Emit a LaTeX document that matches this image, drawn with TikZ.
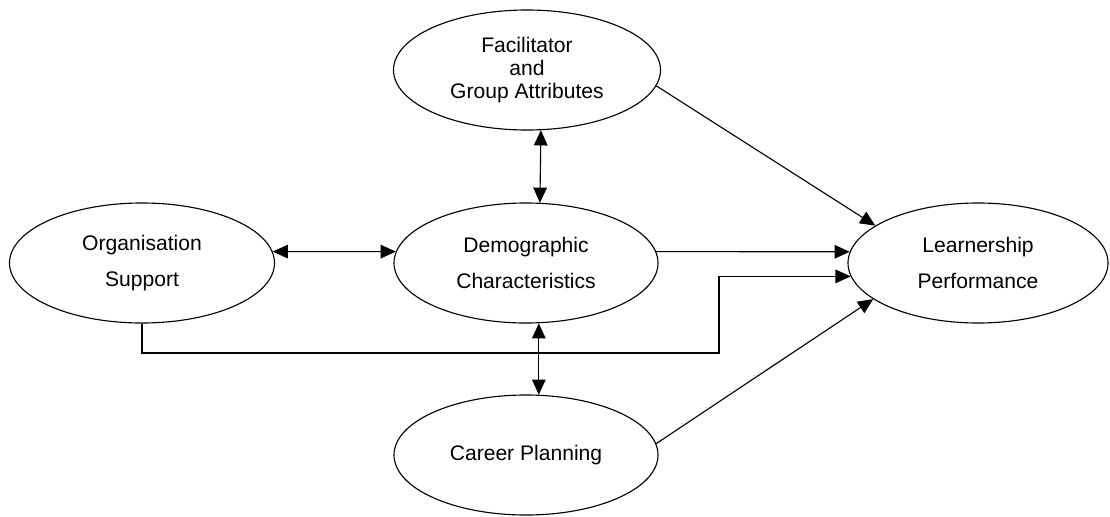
\documentclass[tikz,border=0pt]{standalone}
\usepackage{fontspec}
\setmainfont{Liberation Sans}
\usetikzlibrary{shapes.geometric,arrows.meta}

\begin{document}
\begin{tikzpicture}[
  construct/.style={ellipse, draw, minimum width=6.6cm, minimum height=3cm,
                    inner sep=0pt, align=center, font=\fontsize{15}{26}\selectfont},
  thick,
  >={Triangle[length=0.38cm, width=0.34cm]}
]
\useasboundingbox (0,0) rectangle (27.75,-12.9);

\node[construct, minimum width=6.675cm, font=\fontsize{15}{16.5}\selectfont] (facil) at (13.175, -1.75)
  {Facilitator\\and\\Group Attributes};
\node[construct, minimum width=6.625cm] (org) at (3.55, -6.575) {Organisation\\Support};
\node[construct] (demog) at (13.15, -6.575) {Demographic\\Characteristics};
\node[construct, minimum width=6.5cm] (learn) at (24.45, -6.575) {Learnership\\Performance};
\node[construct] (career) at (13.15, -11.375) {Career Planning};

\coordinate (kink) at (17.975, -8.825);

\draw[<->] (org.5) -- (demog.175);
\draw[<->] (facil.-77) -- (demog.77);
\draw[<->] (demog.-78) -- (career.78);
\draw[->] (demog.5) -- (learn.175);
\draw[->] (org.south) |- (kink) |- (learn.186);
\draw[->] (facil.-7) -- (learn.160);
\draw[->] (career.5) -- (learn.199);
\end{tikzpicture}
\end{document}
